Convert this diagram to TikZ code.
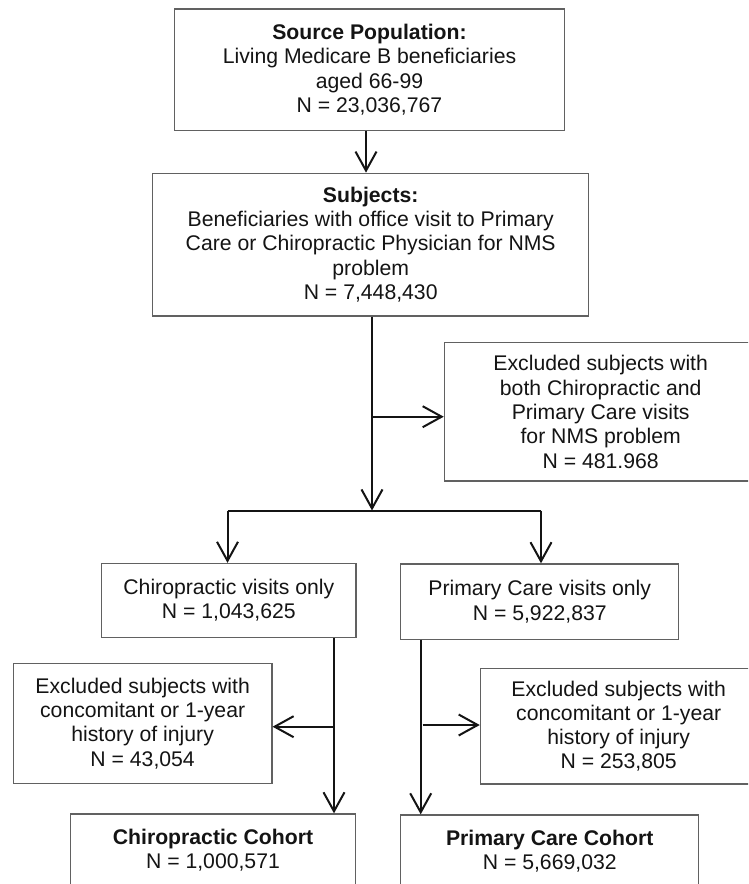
\documentclass[tikz,border=0pt]{standalone}
\usepackage{fontspec}
\setmainfont{Liberation Sans}
\usetikzlibrary{arrows.meta}
\definecolor{boxgray}{gray}{0.38}
\definecolor{inkc}{gray}{0.08}
\tikzset{
  box/.style={draw=boxgray, line width=1.3pt, rectangle, inner sep=0pt, align=center,
    text=inkc, font=\fontsize{21.2}{24.3}\selectfont},
  conn/.style={draw=inkc, line width=2pt},
  arr/.style={conn, -{Straight Barb[length=19pt,width=21pt,line width=2pt]}}
}
\begin{document}
\begin{tikzpicture}[x=1pt,y=-1pt]
\useasboundingbox (0,0) rectangle (748,884);
\clip (0,0) rectangle (748,884);
\fill[white] (0,0) rectangle (748,884);
% boxes
\node[box, minimum width=389.7pt, minimum height=121.5pt] (src) at (369.5,69.75)
  {\textbf{Source Population:}\\Living Medicare B beneficiaries\\aged 66-99\\N = 23,036,767};
\node[box, minimum width=436pt, minimum height=142.7pt] (sub) at (370.7,244.65)
  {\textbf{Subjects:}\\Beneficiaries with office visit to Primary\\Care or Chiropractic Physician for NMS\\problem\\N = 7,448,430};
\node[box, minimum width=312.6pt, minimum height=138.3pt] (exa) at (600.7,411.85)
  {Excluded subjects with\\both Chiropractic and\\Primary Care visits\\for NMS problem\\N = 481.968};
\node[box, minimum width=254.3pt, minimum height=74pt] (chi) at (228.85,600.5)
  {Chiropractic visits only\\N = 1,043,625};
\node[box, minimum width=278.1pt, minimum height=75.3pt] (pri) at (539.75,601.6)
  {Primary Care visits only\\N = 5,922,837};
\node[box, minimum width=258.5pt, minimum height=120pt] (exl) at (142.65,723.3)
  {Excluded subjects with\\concomitant or 1-year\\history of injury\\N = 43,054};
\node[box, minimum width=276.6pt, minimum height=115.7pt] (exr) at (618.7,726.15)
  {Excluded subjects with\\concomitant or 1-year\\history of injury\\N = 253,805};
\node[box, minimum width=284.8pt, minimum height=73pt] (col) at (213,850.5)
  {\textbf{Chiropractic Cohort}\\N = 1,000,571};
\node[box, minimum width=298.1pt, minimum height=72pt] (cor) at (549.75,851)
  {\textbf{Primary Care Cohort}\\N = 5,669,032};
% guide coordinates
\coordinate (xa) at (366,0);
\coordinate (xm) at (372,0);
\coordinate (ya) at (0,416.7);
\coordinate (split) at (372,510.5);
\coordinate (bl) at (227.5,510.5);
\coordinate (br) at (541,510.5);
\coordinate (xl) at (334,0);
\coordinate (xr) at (420.7,0);
\coordinate (yl) at (0,726.7);
\coordinate (yr) at (0,725);
% connectors
\draw[arr] (src.south -| xa) -- (sub.north -| xa);
\draw[arr] (sub.south -| xm) -- (split);
\draw[arr] (xm |- ya) -- (exa.west |- ya);
\draw[conn] (bl) -- (br);
\draw[arr] (bl) -- (chi.north -| bl);
\draw[arr] (br) -- (pri.north -| br);
\draw[arr] (chi.south -| xl) -- (col.north -| xl);
\draw[arr] (xl |- yl) -- (exl.east |- yl);
\draw[arr] (pri.south -| xr) -- (cor.north -| xr);
\draw[arr] ([xshift=2pt]xr |- yr) -- (exr.west |- yr);
\end{tikzpicture}
\end{document}
